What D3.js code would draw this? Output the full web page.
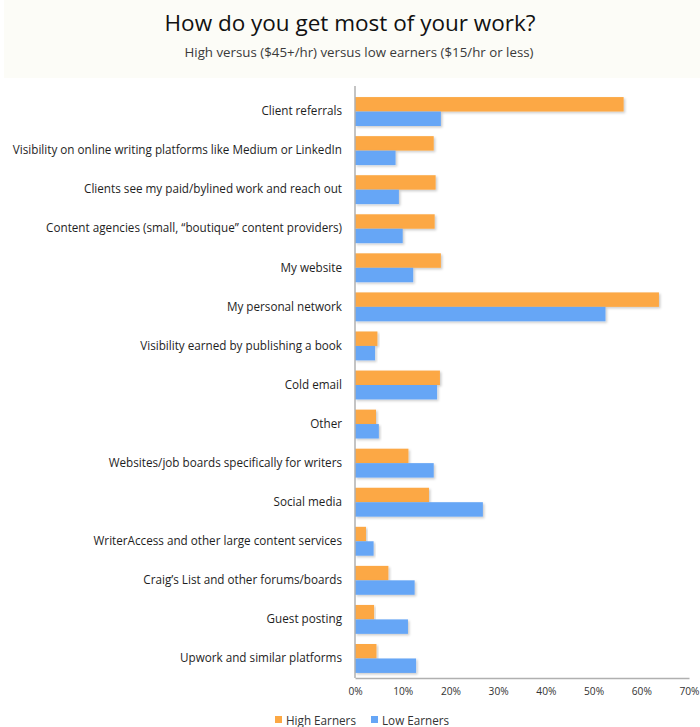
<!DOCTYPE html>
<html>
<head>
<meta charset="utf-8">
<script src="https://cdn.jsdelivr.net/npm/d3@7/dist/d3.min.js"></script>
<style>
  html, body { margin: 0; padding: 0; background: #ffffff; }
  svg { display: block; font-family: "Open Sans", sans-serif; }
</style>
</head>
<body>
<svg id="chart" width="700" height="727"></svg>
<script>
// Survey answers, top to bottom
const categories = [
  "Client referrals",
  "Visibility on online writing platforms like Medium or LinkedIn",
  "Clients see my paid/bylined work and reach out",
  "Content agencies (small, \u201cboutique\u201d content providers)",
  "My website",
  "My personal network",
  "Visibility earned by publishing a book",
  "Cold email",
  "Other",
  "Websites/job boards specifically for writers",
  "Social media",
  "WriterAccess and other large content services",
  "Craig\u2019s List and other forums/boards",
  "Guest posting",
  "Upwork and similar platforms"
];

// Share of respondents (%)
const highEarners = [56.3, 16.5, 16.9, 16.7, 18.0, 63.7, 4.7, 17.8, 4.4, 11.2, 15.5, 2.3, 7.0, 4.0, 4.5];
const lowEarners  = [18.0, 8.5, 9.2, 10.0, 12.2, 52.5, 4.2, 17.2, 5.0, 16.5, 26.8, 3.9, 12.5, 11.1, 12.8];

const seriesNames = ["High Earners", "Low Earners"];
const seriesColors = ["#fca844", "#66a6f6"];
const xTicks = [0, 10, 20, 30, 40, 50, 60, 70];

const svg = d3.select("#chart");
const W = 700, H = 727;
const m = { left: 355, right: 12, top: 92, bottom: 49 };

// Faint cream header band
svg.append("rect").attr("x", 4).attr("y", 0).attr("width", W - 4).attr("height", 78).attr("fill", "#fcfcf7");

// Title and subtitle
svg.append("text").attr("x", 350).attr("y", 31).attr("text-anchor", "middle")
  .attr("font-size", 22.5).attr("fill", "#111").text("How do you get most of your work?");
svg.append("text").attr("x", 359).attr("y", 57).attr("text-anchor", "middle")
  .attr("font-size", 13.3).attr("fill", "#3a3a3a").text("High versus ($45+/hr) versus low earners ($15/hr or less)");

const x = d3.scaleLinear().domain([0, 70]).range([m.left, 689]);
const y = d3.scaleBand().domain(categories).range([m.top, H - m.bottom]).paddingInner(0.26).paddingOuter(0.13);
const sub = d3.scaleBand().domain(seriesNames).range([0, y.bandwidth()]);

const defs = svg.append("defs");
const f = defs.append("filter").attr("id", "shadow").attr("x", "-5%").attr("y", "-20%").attr("width", "115%").attr("height", "160%");
f.append("feDropShadow").attr("dx", 1.5).attr("dy", 1.5).attr("stdDeviation", 0.8)
  .attr("flood-color", "#000").attr("flood-opacity", 0.2);

const rows = categories.map((c, i) => ({ c, vals: [highEarners[i], lowEarners[i]] }));

const g = svg.append("g");
const groups = g.selectAll("g.row").data(rows).join("g").attr("class", "row")
  .attr("transform", d => `translate(0,${y(d.c)})`);

groups.selectAll("rect").data(d => d.vals.map((v, k) => ({ v, k })))
  .join("rect")
  .attr("x", x(0))
  .attr("y", d => sub(seriesNames[d.k]))
  .attr("width", d => x(d.v) - x(0))
  .attr("height", sub.bandwidth())
  .attr("fill", d => seriesColors[d.k])
  .attr("filter", "url(#shadow)");

// Category labels
const yAxis = d3.axisLeft(y).tickSize(0).tickPadding(13);
const ya = svg.append("g").attr("transform", `translate(${x(0)},0)`).call(yAxis);
ya.select(".domain").remove();
ya.selectAll("text").attr("font-size", 11.7).attr("fill", "#1e1e1e").attr("font-family", "Open Sans, sans-serif");

// Value axis
const xAxis = d3.axisBottom(x).tickValues(xTicks).tickFormat(d => d + "%").tickSize(0).tickPadding(10);
const xa = svg.append("g").attr("transform", `translate(0,${H - m.bottom})`).call(xAxis);
xa.select(".domain").attr("stroke", "#b0b0b0").attr("stroke-width", 1.5);
xa.selectAll("text").attr("font-size", 10.2).attr("fill", "#333").attr("font-family", "Open Sans, sans-serif");

// Vertical baseline
svg.append("line").attr("x1", x(0)).attr("x2", x(0)).attr("y1", 86).attr("y2", H - m.bottom)
  .attr("stroke", "#b0b0b0").attr("stroke-width", 1.5);

// Legend
const leg = svg.append("g").attr("transform", "translate(275,721)");
const items = [{ n: seriesNames[0], c: seriesColors[0], x: 0 }, { n: seriesNames[1], c: seriesColors[1], x: 96 }];
items.forEach(it => {
  leg.append("rect").attr("x", it.x).attr("y", -5).attr("width", 7).attr("height", 7).attr("fill", it.c);
  leg.append("text").attr("x", it.x + 11).attr("y", 4).attr("font-size", 11.7).attr("fill", "#333").text(it.n);
});
</script>
</body>
</html>
